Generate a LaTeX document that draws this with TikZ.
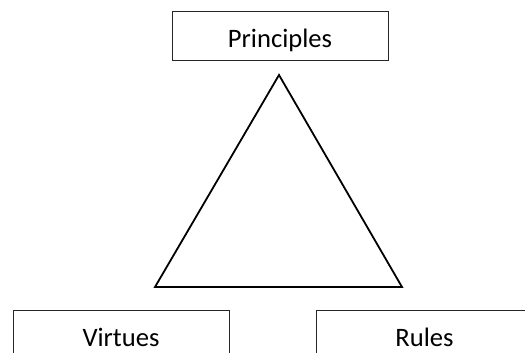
\documentclass[tikz,border=0pt]{standalone}
\usepackage{fontspec}
\setmainfont{Carlito}
\begin{document}
\begin{tikzpicture}[x=1pt,y=-1pt,
  box/.style={draw=black!85, line width=1pt, minimum width=216pt, inner sep=0pt,
    font=\fontsize{26.6}{32}\selectfont, text height=21.6pt, text depth=0pt},
  tri/.style={draw=black, line width=1.8pt, line join=miter}]
\useasboundingbox (0,0) rectangle (525,353);
\clip (0,0) rectangle (525,353);
\node[box, minimum height=49pt] (principles) at (280,36.5) {Principles};
\node[box, minimum height=51pt] (virtues) at (121,335.5) {Virtues};
\node[box, minimum height=51pt, minimum width=217pt] (rules) at (424.5,335.5) {Rules};
\coordinate (apex) at (279,75);
\coordinate (bl) at (155,287);
\coordinate (br) at (402,287);
\draw[tri] (apex) -- (bl) -- (br) -- cycle;
\end{tikzpicture}
\end{document}
